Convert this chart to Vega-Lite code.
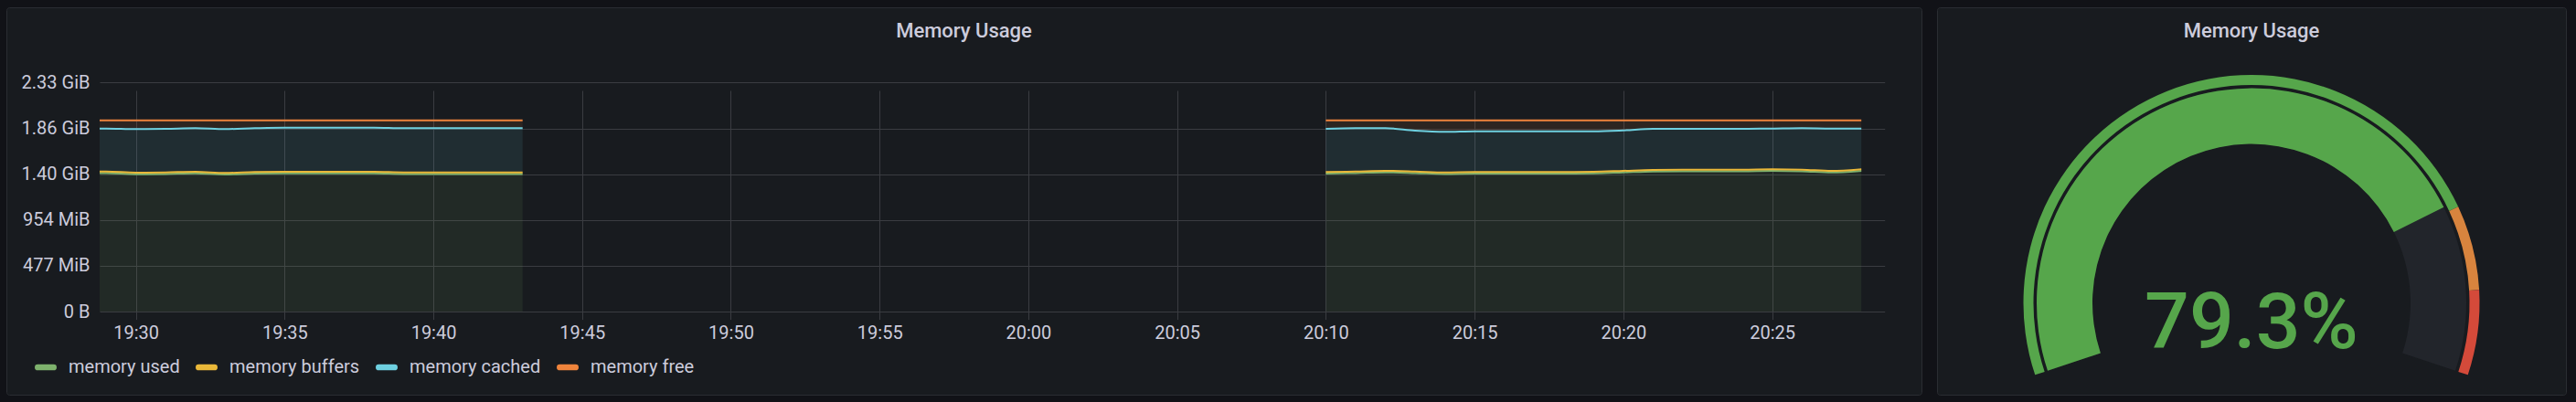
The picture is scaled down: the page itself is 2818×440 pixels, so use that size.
{
  "$schema": "https://vega.github.io/schema/vega-lite/v6.json",
  "background": "#111217",
  "padding": {"left": 6, "top": 7, "right": 14, "bottom": 9},
  "spacing": 15,
  "config": {
    "font": "Roboto",
    "axis": {"labelColor": "#ccccdc", "labelFontSize": 20, "labelFont": "Roboto", "gridColor": "#3a3c41", "gridWidth": 1, "gridOpacity": 1, "domain": false, "ticks": false, "tickSize": 0},
    "title": {"color": "#ccccdc", "fontSize": 22, "fontWeight": 500, "font": "Roboto", "anchor": "middle", "frame": "group", "offset": -38, "baseline": "alphabetic"},
    "legend": {"labelColor": "#ccccdc", "labelFontSize": 20, "labelFont": "Roboto"}
  },
  "resolve": {"scale": {"color": "independent", "theta": "independent"}, "legend": {"color": "independent"}},
  "datasets": {
    "series": [
      {"series": "memory used", "stack": 1},
      {"series": "memory buffers", "stack": 2},
      {"series": "memory cached", "stack": 3},
      {"series": "memory free", "stack": 4}
    ],
    "mem": [
      {"t": "2021-06-01T19:28:47", "seg": 1, "memory used": 1512400000, "memory buffers": 17000000, "memory cached": 468900000, "memory free": 90100000},
      {"t": "2021-06-01T19:29:00", "seg": 1, "memory used": 1512400000, "memory buffers": 17000000, "memory cached": 468900000, "memory free": 90100000},
      {"t": "2021-06-01T19:30:00", "seg": 1, "memory used": 1499400000, "memory buffers": 17000000, "memory cached": 475900000, "memory free": 96100000},
      {"t": "2021-06-01T19:31:00", "seg": 1, "memory used": 1502400000, "memory buffers": 17000000, "memory cached": 475900000, "memory free": 93100000},
      {"t": "2021-06-01T19:32:00", "seg": 1, "memory used": 1509400000, "memory buffers": 17000000, "memory cached": 475900000, "memory free": 86100000},
      {"t": "2021-06-01T19:33:00", "seg": 1, "memory used": 1496400000, "memory buffers": 17000000, "memory cached": 478800000, "memory free": 96100000},
      {"t": "2021-06-01T19:34:00", "seg": 1, "memory used": 1506400000, "memory buffers": 17000000, "memory cached": 478800000, "memory free": 86100000},
      {"t": "2021-06-01T19:35:00", "seg": 1, "memory used": 1509400000, "memory buffers": 17000000, "memory cached": 481800000, "memory free": 80100000},
      {"t": "2021-06-01T19:36:00", "seg": 1, "memory used": 1509400000, "memory buffers": 17000000, "memory cached": 481800000, "memory free": 80100000},
      {"t": "2021-06-01T19:37:00", "seg": 1, "memory used": 1509400000, "memory buffers": 17000000, "memory cached": 481800000, "memory free": 80100000},
      {"t": "2021-06-01T19:38:00", "seg": 1, "memory used": 1509400000, "memory buffers": 17000000, "memory cached": 481800000, "memory free": 80100000},
      {"t": "2021-06-01T19:39:00", "seg": 1, "memory used": 1502400000, "memory buffers": 17000000, "memory cached": 482800000, "memory free": 86100000},
      {"t": "2021-06-01T19:40:00", "seg": 1, "memory used": 1502400000, "memory buffers": 17000000, "memory cached": 482800000, "memory free": 86100000},
      {"t": "2021-06-01T19:41:00", "seg": 1, "memory used": 1502400000, "memory buffers": 17000000, "memory cached": 482800000, "memory free": 86100000},
      {"t": "2021-06-01T19:42:00", "seg": 1, "memory used": 1502400000, "memory buffers": 17000000, "memory cached": 482800000, "memory free": 86100000},
      {"t": "2021-06-01T19:43:00", "seg": 1, "memory used": 1502400000, "memory buffers": 17000000, "memory cached": 482800000, "memory free": 86100000},
      {"t": "2021-06-01T20:10:00", "seg": 2, "memory used": 1506400000, "memory buffers": 17000000, "memory cached": 471900000, "memory free": 93100000},
      {"t": "2021-06-01T20:11:00", "seg": 2, "memory used": 1512400000, "memory buffers": 17000000, "memory cached": 472900000, "memory free": 86100000},
      {"t": "2021-06-01T20:12:00", "seg": 2, "memory used": 1519300000, "memory buffers": 17000000, "memory cached": 465900000, "memory free": 86100000},
      {"t": "2021-06-01T20:13:00", "seg": 2, "memory used": 1512400000, "memory buffers": 17000000, "memory cached": 445900000, "memory free": 113000000},
      {"t": "2021-06-01T20:14:00", "seg": 2, "memory used": 1502400000, "memory buffers": 17000000, "memory cached": 442900000, "memory free": 126000000},
      {"t": "2021-06-01T20:15:00", "seg": 2, "memory used": 1506400000, "memory buffers": 17000000, "memory cached": 444900000, "memory free": 120000000},
      {"t": "2021-06-01T20:16:00", "seg": 2, "memory used": 1506400000, "memory buffers": 17000000, "memory cached": 444900000, "memory free": 120000000},
      {"t": "2021-06-01T20:17:00", "seg": 2, "memory used": 1506400000, "memory buffers": 17000000, "memory cached": 444900000, "memory free": 120000000},
      {"t": "2021-06-01T20:18:00", "seg": 2, "memory used": 1506400000, "memory buffers": 17000000, "memory cached": 444900000, "memory free": 120000000},
      {"t": "2021-06-01T20:19:00", "seg": 2, "memory used": 1509400000, "memory buffers": 17000000, "memory cached": 441900000, "memory free": 120000000},
      {"t": "2021-06-01T20:20:00", "seg": 2, "memory used": 1519300000, "memory buffers": 17000000, "memory cached": 441900000, "memory free": 110000000},
      {"t": "2021-06-01T20:21:00", "seg": 2, "memory used": 1529300000, "memory buffers": 17000000, "memory cached": 448900000, "memory free": 93100000},
      {"t": "2021-06-01T20:22:00", "seg": 2, "memory used": 1532300000, "memory buffers": 17000000, "memory cached": 445900000, "memory free": 93100000},
      {"t": "2021-06-01T20:23:00", "seg": 2, "memory used": 1532300000, "memory buffers": 17000000, "memory cached": 445900000, "memory free": 93100000},
      {"t": "2021-06-01T20:24:00", "seg": 2, "memory used": 1532300000, "memory buffers": 17000000, "memory cached": 445900000, "memory free": 93100000},
      {"t": "2021-06-01T20:25:00", "seg": 2, "memory used": 1536300000, "memory buffers": 17000000, "memory cached": 444900000, "memory free": 90100000},
      {"t": "2021-06-01T20:26:00", "seg": 2, "memory used": 1532300000, "memory buffers": 17000000, "memory cached": 452900000, "memory free": 86100000},
      {"t": "2021-06-01T20:27:00", "seg": 2, "memory used": 1519300000, "memory buffers": 17000000, "memory cached": 461900000, "memory free": 90100000},
      {"t": "2021-06-01T20:28:00", "seg": 2, "memory used": 1536300000, "memory buffers": 17000000, "memory cached": 444900000, "memory free": 90100000}
    ]
  },
  "hconcat": [
    {
      "width": 2095,
      "height": 424,
      "view": {"fill": "#181b1f", "stroke": "#2a2d32", "strokeWidth": 1, "cornerRadius": 3},
      "title": {"text": "Memory Usage"},
      "data": {"name": "mem"},
      "transform": [
        {"fold": ["memory used", "memory buffers", "memory cached", "memory free"], "as": ["series", "bytes"]},
        {"lookup": "series", "from": {"data": {"name": "series"}, "key": "series", "fields": ["stack"]}}
      ],
      "encoding": {
        "x": {
          "field": "t", "type": "temporal",
          "scale": {"domain": [{"year": 2021, "month": 6, "date": 1, "hours": 19, "minutes": 28, "seconds": 47}, {"year": 2021, "month": 6, "date": 1, "hours": 20, "minutes": 28, "seconds": 47}], "range": [102, 2054.7], "nice": false},
          "axis": {"title": null, "format": "%H:%M", "values": [
            {"year": 2021, "month": 6, "date": 1, "hours": 19, "minutes": 30},
            {"year": 2021, "month": 6, "date": 1, "hours": 19, "minutes": 35},
            {"year": 2021, "month": 6, "date": 1, "hours": 19, "minutes": 40},
            {"year": 2021, "month": 6, "date": 1, "hours": 19, "minutes": 45},
            {"year": 2021, "month": 6, "date": 1, "hours": 19, "minutes": 50},
            {"year": 2021, "month": 6, "date": 1, "hours": 19, "minutes": 55},
            {"year": 2021, "month": 6, "date": 1, "hours": 20, "minutes": 0},
            {"year": 2021, "month": 6, "date": 1, "hours": 20, "minutes": 5},
            {"year": 2021, "month": 6, "date": 1, "hours": 20, "minutes": 10},
            {"year": 2021, "month": 6, "date": 1, "hours": 20, "minutes": 15},
            {"year": 2021, "month": 6, "date": 1, "hours": 20, "minutes": 20},
            {"year": 2021, "month": 6, "date": 1, "hours": 20, "minutes": 25}
          ], "offset": -91, "labelPadding": 29, "labelBaseline": "alphabetic", "labelFlush": false, "labelOverlap": false}
        },
        "y": {
          "field": "bytes", "type": "quantitative", "stack": "zero",
          "scale": {"domain": [0, 2500000000], "range": [333, 82.4], "nice": false},
          "axis": {"title": null, "values": [0, 500000000, 1000000000, 1500000000, 2000000000, 2500000000], "offset": -102, "labelPadding": 11, "labelExpr": "datum.value == 0 ? '0 B' : (datum.value < 1073741824 ? format(datum.value / 1048576, '.0f') + ' MiB' : format(datum.value / 1073741824, '.2f') + ' GiB')"}
        },
        "color": {
          "field": "series", "type": "nominal",
          "scale": {"domain": ["memory used", "memory buffers", "memory cached", "memory free"], "range": ["#7eb26d", "#eab839", "#6ed0e0", "#ef843c"]},
          "legend": {"title": null, "orient": "none", "legendX": 31, "legendY": 382, "direction": "horizontal", "symbolType": "M-0.72,-0.28 H0.72 Q1,-0.28 1,0 Q1,0.28 0.72,0.28 H-0.72 Q-1,0.28 -1,0 Q-1,-0.28 -0.72,-0.28 Z", "symbolSize": 576, "symbolStrokeWidth": 0, "labelOffset": 13, "columnPadding": 17, "labelLimit": 400, "encode": {"symbols": {"update": {"fillOpacity": {"value": 1}, "opacity": {"value": 1}, "strokeWidth": {"value": 0}}}}}
        },
        "order": {"field": "stack", "type": "quantitative"}
      },
      "layer": [
        {"transform": [{"filter": "datum.seg == 1"}], "mark": {"type": "area", "fillOpacity": 0.1, "interpolate": "monotone", "line": {"strokeWidth": 2, "interpolate": "monotone"}}},
        {"transform": [{"filter": "datum.seg == 2"}], "mark": {"type": "area", "fillOpacity": 0.1, "interpolate": "monotone", "line": {"strokeWidth": 2, "interpolate": "monotone"}}}
      ]
    },
    {
      "width": 688,
      "height": 424,
      "view": {"fill": "#181b1f", "stroke": "#2a2d32", "strokeWidth": 1, "cornerRadius": 3},
      "title": {"text": "Memory Usage"},
      "layer": [
        {
          "data": {"values": [{"level": "normal", "from": 0, "to": 0.8}, {"level": "warning", "from": 0.8, "to": 0.9}, {"level": "critical", "from": 0.9, "to": 1}]},
          "mark": {"type": "arc", "radius": 249.5, "radius2": 238.5, "yOffset": 111.6},
          "encoding": {
            "theta": {"field": "from", "type": "quantitative", "stack": null, "scale": {"domain": [0, 1], "range": [-1.892, 1.892]}},
            "theta2": {"field": "to"},
            "color": {"field": "level", "type": "nominal", "scale": {"domain": ["normal", "warning", "critical"], "range": ["#56a64b", "#d8843e", "#d44a3a"]}, "legend": null}
          }
        },
        {
          "data": {"values": [{"from": 0, "to": 1}]},
          "mark": {"type": "arc", "radius": 235, "radius2": 174, "yOffset": 111.6, "color": "#22252b"},
          "encoding": {
            "theta": {"field": "from", "type": "quantitative", "stack": null, "scale": {"domain": [0, 1], "range": [-1.892, 1.892]}},
            "theta2": {"field": "to"}
          }
        },
        {
          "data": {"values": [{"from": 0, "value": 0.793}]},
          "mark": {"type": "arc", "radius": 235, "radius2": 174, "yOffset": 111.6, "color": "#56a64b"},
          "encoding": {
            "theta": {"field": "from", "type": "quantitative", "stack": null, "scale": {"domain": [0, 1], "range": [-1.892, 1.892]}},
            "theta2": {"field": "value"}
          }
        },
        {
          "data": {"values": [{"value": 0.793}]},
          "mark": {"type": "text", "fontSize": 86, "font": "Roboto", "fontWeight": 500, "color": "#56a64b", "align": "center", "baseline": "alphabetic", "dy": 161},
          "encoding": {"text": {"field": "value", "type": "quantitative", "format": ".1%"}}
        }
      ]
    }
  ]
}
